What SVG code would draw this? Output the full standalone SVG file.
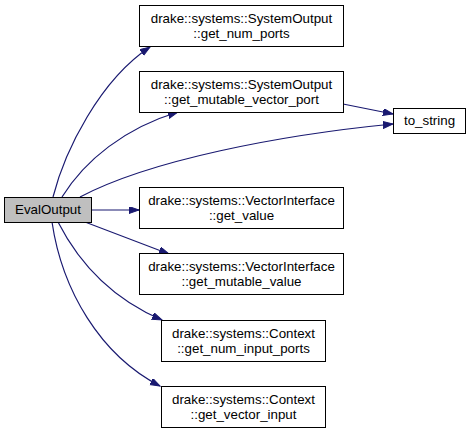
<svg xmlns="http://www.w3.org/2000/svg" width="471" height="431" viewBox="0 0 471 431">
<defs>
<style>
.n rect{fill:#ffffff;stroke:#000000;stroke-width:1}
.n.root rect{fill:#bfbfbf}
.n text{font-family:"Liberation Sans",Arial,sans-serif;font-size:13.33px;fill:#000000;text-anchor:middle}
.e path{fill:none;stroke:#191970;stroke-width:1.2}
</style>
<marker id="arr" markerUnits="userSpaceOnUse" markerWidth="11" markerHeight="8" refX="10" refY="3.5" orient="auto">
<path d="M0,0 L10,3.5 L0,7 z" fill="#191970" stroke="#191970"/>
</marker>
</defs>
<rect width="471" height="431" fill="#ffffff"/>
<g id="edges" class="e">
<path d="M53,197 C65,150 100,80 150,47" marker-end="url(#arr)"/>
<path d="M62,197 C85,160 125,128 178,112" marker-end="url(#arr)"/>
<path d="M80,197 C150,160 280,135 393,124" marker-end="url(#arr)"/>
<path d="M343,104 L393,114" marker-end="url(#arr)"/>
<path d="M91,210 L139,210" marker-end="url(#arr)"/>
<path d="M85,222 L169,254" marker-end="url(#arr)"/>
<path d="M58,222 C80,265 115,300 162,320" marker-end="url(#arr)"/>
<path d="M52,222 C62,290 100,355 160,386" marker-end="url(#arr)"/>
</g>
<g id="EvalOutput" class="n root">
<rect x="4.5" y="197.5" width="87" height="25"/>
<text x="48" y="214">EvalOutput</text>
</g>
<g id="get_num_ports" class="n">
<rect x="139.5" y="5.5" width="204" height="41"/>
<text x="241.5" y="22.5">drake::systems::SystemOutput</text>
<text x="241.5" y="37.5">::get_num_ports</text>
</g>
<g id="get_mutable_vector_port" class="n">
<rect x="139.5" y="71.5" width="204" height="41"/>
<text x="241.5" y="88.5">drake::systems::SystemOutput</text>
<text x="241.5" y="103.5">::get_mutable_vector_port</text>
</g>
<g id="to_string" class="n">
<rect x="393.5" y="108.5" width="72" height="25"/>
<text x="429.5" y="125">to_string</text>
</g>
<g id="get_value" class="n">
<rect x="139.5" y="187.5" width="204" height="41"/>
<text x="241.5" y="204.5">drake::systems::VectorInterface</text>
<text x="241.5" y="219.5">::get_value</text>
</g>
<g id="get_mutable_value" class="n">
<rect x="139.5" y="253.5" width="204" height="41"/>
<text x="241.5" y="270.5">drake::systems::VectorInterface</text>
<text x="241.5" y="285.5">::get_mutable_value</text>
</g>
<g id="get_num_input_ports" class="n">
<rect x="161.5" y="320.5" width="164" height="41"/>
<text x="243.5" y="337.5">drake::systems::Context</text>
<text x="243.5" y="352.5">::get_num_input_ports</text>
</g>
<g id="get_vector_input" class="n">
<rect x="161.5" y="386.5" width="164" height="41"/>
<text x="243.5" y="403.5">drake::systems::Context</text>
<text x="243.5" y="418.5">::get_vector_input</text>
</g>
</svg>
